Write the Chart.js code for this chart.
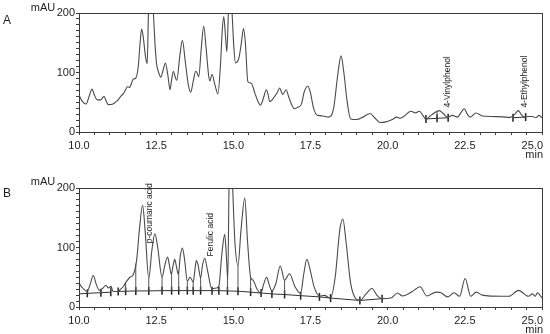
<!DOCTYPE html>
<html>
<head>
<meta charset="utf-8">
<script src="https://cdn.jsdelivr.net/npm/chart.js@4.4.0/dist/chart.umd.min.js"></script>
<style>
  html, body { margin: 0; padding: 0; background: #fff; }
  #wrap { position: relative; width: 550px; height: 334px; }
  #panelA { position: absolute; left: 0; top: 0; }
  #panelB { position: absolute; left: 0; top: 165px; }
</style>
</head>
<body>
<div id="wrap">
  <canvas id="panelA" width="550" height="165"></canvas>
  <canvas id="panelB" width="550" height="169"></canvas>
</div>
<script>
// Chromatogram A (retention time in min, absorbance in mAU)
const timesA = [10.00, 10.10, 10.23, 10.33, 10.42, 10.50, 10.59, 10.70, 10.81, 10.88, 10.95, 11.10, 11.20, 11.27, 11.35, 11.43, 11.50, 11.57, 11.64, 11.72, 11.76, 11.83, 11.92, 11.98, 12.03, 12.08, 12.16, 12.21, 12.25, 12.33, 12.41, 12.46, 12.51, 12.58, 12.65, 12.73, 12.80, 12.88, 12.95, 13.00, 13.06, 13.12, 13.17, 13.26, 13.35, 13.44, 13.54, 13.62, 13.70, 13.78, 13.83, 13.88, 13.96, 14.04, 14.12, 14.20, 14.24, 14.31, 14.40, 14.50, 14.58, 14.64, 14.69, 14.74, 14.79, 14.84, 14.90, 14.96, 15.02, 15.07, 15.18, 15.26, 15.33, 15.39, 15.47, 15.58, 15.70, 15.80, 15.88, 15.98, 16.07, 16.13, 16.18, 16.34, 16.42, 16.50, 16.60, 16.71, 16.80, 16.98, 17.10, 17.20, 17.30, 17.41, 17.49, 17.60, 17.72, 17.90, 18.08, 18.25, 18.38, 18.49, 18.58, 18.68, 18.80, 19.00, 19.20, 19.43, 19.58, 19.75, 19.94, 20.15, 20.29, 20.40, 20.52, 20.75, 20.90, 21.03, 21.14, 21.24, 21.38, 21.51, 21.67, 21.80, 21.94, 22.10, 22.26, 22.38, 22.48, 22.58, 22.67, 22.86, 23.07, 23.40, 23.72, 23.98, 24.12, 24.23, 24.32, 24.42, 24.55, 24.69, 24.80, 24.90, 25.00]
const absA = [62, 52, 47, 60, 72, 62, 54, 54, 60, 52, 46, 47, 51, 54, 60, 64, 70, 76, 75, 85, 89, 90, 110, 150, 173, 160, 125, 115, 200, 290, 200, 150, 116, 100, 92, 105, 116, 95, 71, 88, 102, 92, 87, 125, 154, 120, 80, 67, 85, 102, 99, 93, 140, 178, 140, 95, 86, 97, 80, 64, 110, 170, 194, 165, 135, 200, 270, 200, 140, 116, 124, 150, 174, 150, 85, 82, 65, 51, 45, 58, 71, 62, 51, 60, 66, 74, 63, 71, 58, 39, 42, 46, 68, 77, 68, 40, 28, 27, 25, 40, 95, 128, 100, 54, 22, 21, 25, 31, 24, 16, 17, 21, 25, 23, 26, 35, 32, 35, 28, 21, 27, 32, 36, 31, 25, 28, 25, 33, 39, 30, 25, 32, 27, 26, 25.5, 24.5, 30, 36, 30, 25, 26, 26, 24, 28, 24]

// Chromatogram B
const timesB = [10.00, 10.10, 10.27, 10.36, 10.46, 10.56, 10.66, 10.78, 10.87, 10.95, 11.04, 11.10, 11.20, 11.27, 11.35, 11.43, 11.54, 11.65, 11.76, 11.87, 11.95, 12.06, 12.14, 12.26, 12.36, 12.46, 12.55, 12.69, 12.78, 12.87, 12.93, 12.99, 13.05, 13.10, 13.15, 13.22, 13.28, 13.35, 13.42, 13.51, 13.60, 13.70, 13.75, 13.80, 13.86, 13.94, 14.00, 14.07, 14.17, 14.30, 14.45, 14.53, 14.63, 14.72, 14.77, 14.82, 14.86, 14.92, 14.98, 15.05, 15.15, 15.25, 15.37, 15.46, 15.56, 15.64, 15.75, 15.89, 15.98, 16.08, 16.16, 16.25, 16.38, 16.52, 16.66, 16.82, 16.99, 17.18, 17.28, 17.38, 17.50, 17.61, 17.79, 17.95, 18.14, 18.30, 18.45, 18.55, 18.65, 18.80, 18.95, 19.10, 19.30, 19.49, 19.65, 19.82, 20.10, 20.32, 20.48, 20.80, 21.05, 21.27, 21.57, 21.73, 21.94, 22.15, 22.33, 22.51, 22.69, 22.87, 23.06, 23.71, 23.93, 24.24, 24.56, 24.69, 24.78, 24.85, 25.00]
const absB = [40, 33, 26, 38, 53, 38, 28, 32, 36.5, 32, 35, 26, 26, 26, 30, 34, 43, 50, 54.5, 80, 126, 171, 130, 48, 95, 123, 100, 50, 70, 84, 70, 55, 70, 80, 70, 55, 85, 99, 80, 43, 50, 42, 60, 78, 70, 49, 70, 82, 60, 31, 32, 35, 90, 122, 90, 46, 200, 300, 200, 110, 70, 130, 183, 110, 50, 45, 32, 23, 38, 50, 38, 27, 40, 69, 45, 56, 35, 23, 55, 80, 60, 35, 18.5, 19.5, 15, 50, 130, 148, 110, 40, 15, 11, 22, 31, 20, 14, 15, 23.5, 18.5, 26, 34, 18.5, 25, 24, 17, 24, 18, 48, 18, 25, 20, 18, 18, 28, 18, 22, 18, 24, 15]

// Integration baselines (null breaks a segment) and marker times
const baseTimesA = [21.24, 21.60, 21.96, null, 24.06, 24.47]
const baseLevelsA = [22, 23, 24, null, 24, 25]
const markTimesA = [21.24, 21.60, 21.96, 24.06, 24.47]

const baseTimesB = [10.00, 10.27, 10.71, 11.03, null, 11.27, 11.51, 11.84, 12.26, 12.69, 13.00, 13.23, 13.51, 13.70, 13.94, 14.31, 14.53, 14.81, 15.15, 15.56, 15.90, 16.25, 16.66, 17.18, 17.79, 18.15, 19.10, 19.82]
const baseLevelsB = [22, 23, 24, 25, null, 26, 26.5, 27, 27, 27.5, 27.5, 27.5, 27.5, 27.5, 27.5, 27.5, 27.5, 27, 26.5, 25, 23.5, 22, 21, 19, 17, 15, 11, 14]
const markTimesB = [10.27, 10.71, 11.03, 11.27, 11.51, 11.84, 12.26, 12.69, 13.00, 13.23, 13.51, 13.70, 13.94, 14.31, 14.53, 14.81, 15.15, 15.56, 15.90, 16.25, 16.66, 17.18, 17.79, 18.15, 19.10, 19.82]

// Peak labels
const peakLabelsA = [{ text: "4-Vinylphenol", t: 21.94, y: 41 }, { text: "4-Ethylphenol", t: 24.44, y: 41 }]
const peakLabelsB = [{ text: "p-coumaric acid", t: 12.30, y: 107 }, { text: "Ferulic acid", t: 14.26, y: 85 }]

const xTickLabels = [10.0, 12.5, 15.0, 17.5, 20.0, 22.5, 25.0]
const yTickLabels = [0, 100, 200]

const LINE = "#4a4a4a"
const AXIS = "#3a3a3a"
const TEXT = "#1e1e1e"
const FONT = "Arial, 'Liberation Sans', sans-serif"

function toPoints(xs, ys) {
  return xs.map((x, i) => ({ x: x, y: x === null ? null : ys[i] }))
}

function interp(xs, ys, t) {
  for (let i = 1; i < xs.length; i++) {
    if (xs[i] >= t) {
      const f = (t - xs[i - 1]) / (xs[i] - xs[i - 1])
      return ys[i - 1] + f * (ys[i] - ys[i - 1])
    }
  }
  return ys[ys.length - 1]
}

function baseAt(bt, bl, t) {
  const xs = [], ys = []
  bt.forEach((x, i) => { if (x !== null) { xs.push(x); ys.push(bl[i]) } })
  return interp(xs, ys, t)
}

// drop lines from baseline up to the trace at each marker
function dropLines(times, abs, bt, bl, marks) {
  const pts = []
  marks.forEach((t) => {
    const b = baseAt(bt, bl, t)
    const v = interp(times, abs, t)
    if (v > b + 1) {
      pts.push({ x: t, y: b }, { x: t, y: v }, { x: t, y: null })
    }
  })
  return pts
}

const framePlugin = {
  id: "frame",
  afterDraw(chart, args, opts) {
    const ctx = chart.ctx
    const a = chart.chartArea
    const xs = chart.scales.x
    const ys = chart.scales.y
    ctx.save()
    ctx.strokeStyle = AXIS
    ctx.lineWidth = 1
    ctx.strokeRect(Math.round(a.left) + 0.5, Math.round(a.top) + 0.5, Math.round(a.right - a.left), Math.round(a.bottom - a.top))

    ctx.fillStyle = TEXT
    ctx.font = "11px " + FONT
    ctx.textBaseline = "middle"
    xTickLabels.forEach((v, i) => {
      const px = xs.getPixelForValue(v)
      const last = i === xTickLabels.length - 1
      ctx.textAlign = last ? "right" : "center"
      ctx.fillText(v.toFixed(1), last ? px + 1 : px, a.bottom + 14)
    })
    ctx.textAlign = "right"
    ctx.fillText("min", a.right + 1, a.bottom + 23)

    ctx.textAlign = "center"
    ctx.font = "11px " + FONT
    ctx.fillText("mAU", 43, opts.mauY)
    ctx.font = "12px " + FONT
    ctx.fillText(opts.letter, 7, opts.letterY)

    ctx.font = "8.5px " + FONT
    ctx.textAlign = "left"
    opts.labels.forEach((l) => {
      const px = xs.getPixelForValue(l.t)
      const py = ys.getPixelForValue(l.y)
      ctx.save()
      ctx.translate(px, py)
      ctx.rotate(-Math.PI / 2)
      ctx.fillText(l.text, 0, 0)
      ctx.restore()
    })
    ctx.restore()
  },
}

function makePanel(id, times, abs, bt, bl, marks, labels, letter, padTop, axisH, mauY, letterY) {
  const ctx = document.getElementById(id).getContext("2d")
  new Chart(ctx, {
    type: "line",
    data: {
      datasets: [
        {
          data: toPoints(times, abs),
          borderColor: LINE,
          borderWidth: 1.1,
          pointRadius: 0,
          cubicInterpolationMode: "monotone",
        },
        {
          data: toPoints(bt, bl),
          borderColor: "#333",
          borderWidth: 1,
          pointRadius: 0,
          spanGaps: false,
        },
        {
          data: dropLines(times, abs, bt, bl, marks),
          borderColor: "#555",
          borderWidth: 1,
          pointRadius: 0,
          spanGaps: false,
        },
        {
          data: marks.map((t) => ({ x: t, y: baseAt(bt, bl, t) })),
          showLine: false,
          pointStyle: "line",
          rotation: 90,
          pointRadius: 4,
          borderColor: "#222",
          borderWidth: 1.5,
        },
      ],
    },
    options: {
      responsive: false,
      animation: false,
      events: [],
      layout: { padding: { top: padTop, right: 8, left: 0, bottom: 0 } },
      plugins: {
        legend: { display: false },
        tooltip: { enabled: false },
        frame: { labels: labels, letter: letter, mauY: mauY, letterY: letterY },
      },
      scales: {
        x: {
          type: "linear",
          min: 10,
          max: 25,
          border: { display: false },
          grid: { drawOnChartArea: false, drawTicks: true, tickLength: 3, color: AXIS },
          ticks: { display: false, stepSize: 0.5, autoSkip: false },
          afterFit: (s) => { s.height = axisH; s.paddingLeft = 0; s.paddingRight = 0 },
        },
        y: {
          min: 0,
          max: 200,
          border: { display: false },
          grid: { drawOnChartArea: false, drawTicks: true, tickLength: 3, color: AXIS },
          ticks: {
            stepSize: 10,
            autoSkip: false,
            padding: 1,
            color: TEXT,
            font: { size: 11, family: FONT },
            callback: (v) => (yTickLabels.includes(v) ? String(v) : ""),
          },
          afterFit: (s) => { s.width = 79 },
        },
      },
    },
    plugins: [framePlugin],
  })
}

makePanel("panelA", timesA, absA, baseTimesA, baseLevelsA, markTimesA, peakLabelsA, "A", 13, 33, 8, 21)
makePanel("panelB", timesB, absB, baseTimesB, baseLevelsB, markTimesB, peakLabelsB, "B", 23, 27, 17, 29)
</script>
</body>
</html>
